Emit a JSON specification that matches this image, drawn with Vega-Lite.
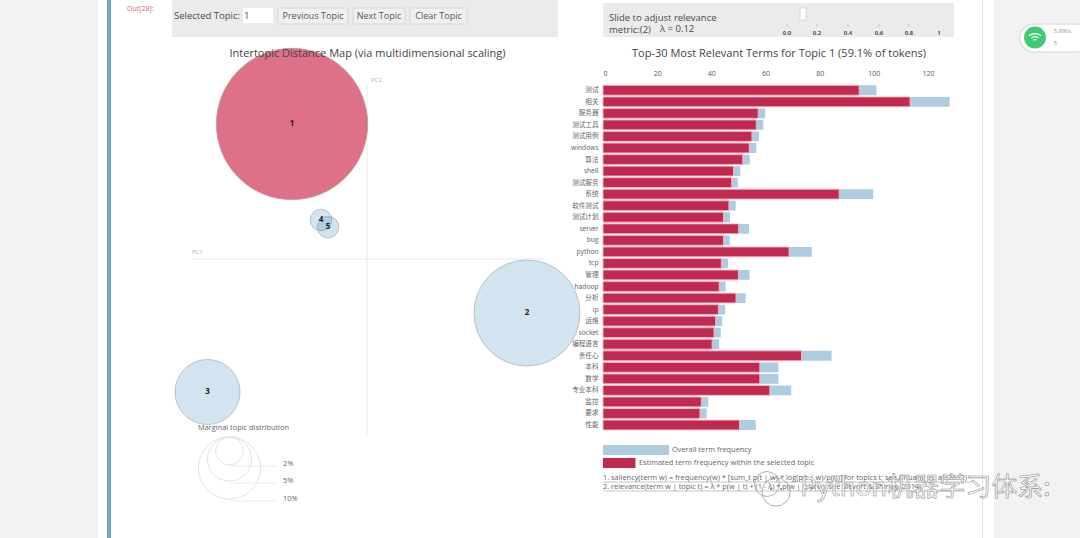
{
"$schema":"https://vega.github.io/schema/vega-lite/v6.json",
"width":1080,"height":538,"padding":0,
"autosize":{"type":"fit","contains":"padding"},
"background":"#ffffff",
"config":{"view":{"stroke":null},"font":"Open Sans"},
"datasets":{
"terms":[
{"term":"测试","overall":101,"topic":94.6},{"term":"相关","overall":128,"topic":113.4},{"term":"服务器","overall":59.9,"topic":57.3},{"term":"测试工具","overall":59.2,"topic":56.6},{"term":"测试用例","overall":57.6,"topic":55},{"term":"windows","overall":56.6,"topic":54},{"term":"算法","overall":54.2,"topic":51.6},{"term":"shell","overall":50.7,"topic":48.2},{"term":"测试服务","overall":49.8,"topic":47.5},{"term":"系统","overall":99.8,"topic":87.2},{"term":"软件测试","overall":49,"topic":46.5},{"term":"测试计划","overall":46.9,"topic":44.5},{"term":"server","overall":53.9,"topic":50.1},{"term":"bug","overall":46.8,"topic":44.5},{"term":"python","overall":77.1,"topic":68.7},{"term":"tcp","overall":46.2,"topic":43.7},{"term":"管理","overall":54.1,"topic":50},{"term":"hadoop","overall":45.3,"topic":42.9},{"term":"分析","overall":52.7,"topic":49.1},{"term":"ip","overall":45.1,"topic":42.6},{"term":"运维","overall":44,"topic":41.6},{"term":"socket","overall":43.5,"topic":41},{"term":"编程语言","overall":42.9,"topic":40.3},{"term":"责任心","overall":84.4,"topic":73.3},{"term":"本科","overall":64.8,"topic":57.9},{"term":"数学","overall":64.8,"topic":57.9},{"term":"专业本科","overall":69.5,"topic":61.6},{"term":"监控","overall":38.9,"topic":36.3},{"term":"要求","overall":38.3,"topic":35.8},{"term":"性能","overall":56.4,"topic":50.4}],
"topics":[
{"id":"1","pc1":-0.15,"pc2":0.27,"share":59.1,"state":"selected"},{"id":"2","pc1":0.32,"pc2":-0.108,"share":29,"state":"other"},{"id":"3","pc1":-0.319,"pc2":-0.266,"share":10.9,"state":"other"},{"id":"4","pc1":-0.092,"pc2":0.078,"share":1.2,"state":"other"},{"id":"5","pc1":-0.078,"pc2":0.064,"share":1.2,"state":"other"}]
},
"layer":[
{"data":{"values":[{"x":0,"x2":98,"y":0,"y2":538},{"x":994,"x2":1080,"y":0,"y2":538}]},"mark":{"type":"rect","fill":"#f2f2f2"},
"encoding":{"x":{"field":"x","type":"quantitative","axis":null,"scale":{"domain":[0,1080],"range":[0,1080],"nice":false,"zero":false}},"x2":{"field":"x2"},"y":{"field":"y","type":"quantitative","axis":null,"scale":{"domain":[0,538],"range":[0,538],"nice":false,"zero":false}},"y2":{"field":"y2"}}},
{"data":{"values":[{"x":107,"x2":111,"y":0,"y2":538}]},"mark":{"type":"rect","fill":"#6fa5c5"},
"encoding":{"x":{"field":"x","type":"quantitative","axis":null,"scale":{"domain":[0,1080],"range":[0,1080],"nice":false,"zero":false}},"x2":{"field":"x2"},"y":{"field":"y","type":"quantitative","axis":null,"scale":{"domain":[0,538],"range":[0,538],"nice":false,"zero":false}},"y2":{"field":"y2"}}},
{"data":{"values":[{"x":982,"x2":983,"y":0,"y2":538}]},"mark":{"type":"rect","fill":"#e2e2e2"},
"encoding":{"x":{"field":"x","type":"quantitative","axis":null,"scale":{"domain":[0,1080],"range":[0,1080],"nice":false,"zero":false}},"x2":{"field":"x2"},"y":{"field":"y","type":"quantitative","axis":null,"scale":{"domain":[0,538],"range":[0,538],"nice":false,"zero":false}},"y2":{"field":"y2"}}},
{"data":{"values":[{"x":172,"x2":558,"y":0,"y2":37},{"x":603,"x2":954,"y":3,"y2":37}]},"mark":{"type":"rect","fill":"#ebebeb"},
"encoding":{"x":{"field":"x","type":"quantitative","axis":null,"scale":{"domain":[0,1080],"range":[0,1080],"nice":false,"zero":false}},"x2":{"field":"x2"},"y":{"field":"y","type":"quantitative","axis":null,"scale":{"domain":[0,538],"range":[0,538],"nice":false,"zero":false}},"y2":{"field":"y2"}}},
{"data":{"values":[{"x":243,"x2":273,"y":8,"y2":23}]},"mark":{"type":"rect","fill":"#ffffff"},
"encoding":{"x":{"field":"x","type":"quantitative","axis":null,"scale":{"domain":[0,1080],"range":[0,1080],"nice":false,"zero":false}},"x2":{"field":"x2"},"y":{"field":"y","type":"quantitative","axis":null,"scale":{"domain":[0,538],"range":[0,538],"nice":false,"zero":false}},"y2":{"field":"y2"}}},
{"data":{"values":[{"x":278,"x2":348,"y":8,"y2":24},{"x":353,"x2":405,"y":8,"y2":24},{"x":410,"x2":467,"y":8,"y2":24}]},"mark":{"type":"rect","fill":"#f0f0f0","stroke":"#d6d6d6","strokeWidth":1},
"encoding":{"x":{"field":"x","type":"quantitative","axis":null,"scale":{"domain":[0,1080],"range":[0,1080],"nice":false,"zero":false}},"x2":{"field":"x2"},"y":{"field":"y","type":"quantitative","axis":null,"scale":{"domain":[0,538],"range":[0,538],"nice":false,"zero":false}},"y2":{"field":"y2"}}},
{"data":{"values":[{"x":800,"x2":806,"y":8,"y2":20}]},"mark":{"type":"rect","fill":"#ffffff","stroke":"#cfcfcf","strokeWidth":0.7},
"encoding":{"x":{"field":"x","type":"quantitative","axis":null,"scale":{"domain":[0,1080],"range":[0,1080],"nice":false,"zero":false}},"x2":{"field":"x2"},"y":{"field":"y","type":"quantitative","axis":null,"scale":{"domain":[0,538],"range":[0,538],"nice":false,"zero":false}},"y2":{"field":"y2"}}},
{"data":{"values":[{"x":787,"y":24,"y2":27},{"x":817,"y":24,"y2":27},{"x":848,"y":24,"y2":27},{"x":879,"y":24,"y2":27},{"x":909,"y":24,"y2":27}]},"mark":{"type":"rule","stroke":"#b5b5b5","strokeWidth":0.7},
"encoding":{"x":{"field":"x","type":"quantitative","axis":null,"scale":{"domain":[0,1080],"range":[0,1080],"nice":false,"zero":false}},"y":{"field":"y","type":"quantitative","axis":null,"scale":{"domain":[0,538],"range":[0,538],"nice":false,"zero":false}},"y2":{"field":"y2"}}},
{"data":{"values":[{"pc1":-0.35,"pc1b":0.35,"pc2":0}]},"mark":{"type":"rule","stroke":"#e9e9e9","strokeWidth":1},
"encoding":{"x":{"field":"pc1","type":"quantitative","axis":null,"scale":{"domain":[-0.35,0.35],"range":[192,542],"nice":false,"zero":false}},"x2":{"field":"pc1b"},"y":{"field":"pc2","type":"quantitative","axis":null,"scale":{"domain":[-0.352,0.352],"range":[435,83],"nice":false,"zero":false}}}},
{"data":{"values":[{"pc1":0,"pc2":-0.352,"pc2b":0.352}]},"mark":{"type":"rule","stroke":"#e9e9e9","strokeWidth":1},
"encoding":{"x":{"field":"pc1","type":"quantitative","axis":null,"scale":{"domain":[-0.35,0.35],"range":[192,542],"nice":false,"zero":false}},"y":{"field":"pc2","type":"quantitative","axis":null,"scale":{"domain":[-0.352,0.352],"range":[435,83],"nice":false,"zero":false}},"y2":{"field":"pc2b"}}},
{"data":{"name":"topics"},"mark":{"type":"point","filled":true,"opacity":1,"stroke":"#a3a3a3","strokeWidth":0.6},
"encoding":{"x":{"field":"pc1","type":"quantitative","axis":null,"scale":{"domain":[-0.35,0.35],"range":[192,542],"nice":false,"zero":false}},"y":{"field":"pc2","type":"quantitative","axis":null,"scale":{"domain":[-0.352,0.352],"range":[435,83],"nice":false,"zero":false}},"size":{"field":"share","type":"quantitative","legend":null,"scale":{"domain":[0,100],"range":[0,38800]}},"color":{"field":"state","type":"nominal","legend":null,"scale":{"domain":["selected","other"],"range":["rgba(205,35,70,0.65)","rgba(31,119,180,0.2)"]}}}},
{"data":{"name":"topics"},"mark":{"type":"text","fontSize":8,"fontWeight":"bold","color":"#222222","font":"Open Sans"},
"encoding":{"x":{"field":"pc1","type":"quantitative","axis":null,"scale":{"domain":[-0.35,0.35],"range":[192,542],"nice":false,"zero":false}},"y":{"field":"pc2","type":"quantitative","axis":null,"scale":{"domain":[-0.352,0.352],"range":[435,83],"nice":false,"zero":false}},"text":{"field":"id"}}},
{"data":{"values":[{"x":229.5,"y":451,"pct":2},{"x":229.5,"y":459,"pct":5},{"x":229.5,"y":468,"pct":10}]},"mark":{"type":"point","filled":false,"opacity":1,"stroke":"#dedbe0","strokeWidth":0.8},
"encoding":{"x":{"field":"x","type":"quantitative","axis":null,"scale":{"domain":[0,1080],"range":[0,1080],"nice":false,"zero":false}},"y":{"field":"y","type":"quantitative","axis":null,"scale":{"domain":[0,538],"range":[0,538],"nice":false,"zero":false}},"size":{"field":"pct","type":"quantitative","legend":null,"scale":{"domain":[0,100],"range":[0,38800]}}}},
{"data":{"values":[{"x":230,"x2":277,"y":466},{"x":230,"x2":277,"y":483},{"x":230,"x2":277,"y":501}]},"mark":{"type":"rule","stroke":"#e2e2e2","strokeWidth":0.7},
"encoding":{"x":{"field":"x","type":"quantitative","axis":null,"scale":{"domain":[0,1080],"range":[0,1080],"nice":false,"zero":false}},"x2":{"field":"x2"},"y":{"field":"y","type":"quantitative","axis":null,"scale":{"domain":[0,538],"range":[0,538],"nice":false,"zero":false}}}},
{"data":{"name":"terms"},"mark":{"type":"bar","fill":"#aecbe0"},
"encoding":{"x":{"field":"overall","type":"quantitative","scale":{"domain":[0,128],"range":[603,949.6],"nice":false},"axis":{"orient":"top","offset":-77,"values":[0,20,40,60,80,100,120],"grid":false,"domain":false,"ticks":false,"labelFontSize":7,"labelColor":"#555555","labelPadding":1,"title":null,"labelFont":"Open Sans"}},"y":{"field":"term","type":"nominal","sort":null,"scale":{"range":[84.5,430.8],"paddingInner":0.15,"paddingOuter":0.075},"axis":{"orient":"left","offset":-603,"grid":false,"domain":false,"ticks":false,"labelFontSize":6.6,"labelColor":"#666666","labelPadding":5,"title":null,"labelFont":"Noto Sans CJK SC","labelOverlap":false}}}},
{"data":{"name":"terms"},"mark":{"type":"bar","fill":"#c02a50","stroke":"#f8b6c4","strokeWidth":0.9},
"encoding":{"x":{"field":"topic","type":"quantitative","axis":null,"scale":{"domain":[0,128],"range":[603,949.6],"nice":false}},"y":{"field":"term","type":"nominal","sort":null,"axis":null,"scale":{"range":[84.5,430.8],"paddingInner":0.15,"paddingOuter":0.075}}}},
{"data":{"values":[{"x":603,"x2":669,"y":445,"y2":455}]},"mark":{"type":"rect","fill":"#aecbe0"},
"encoding":{"x":{"field":"x","type":"quantitative","axis":null,"scale":{"domain":[0,1080],"range":[0,1080],"nice":false,"zero":false}},"x2":{"field":"x2"},"y":{"field":"y","type":"quantitative","axis":null,"scale":{"domain":[0,538],"range":[0,538],"nice":false,"zero":false}},"y2":{"field":"y2"}}},
{"data":{"values":[{"x":603,"x2":635.5,"y":458,"y2":468}]},"mark":{"type":"rect","fill":"#c02a50"},
"encoding":{"x":{"field":"x","type":"quantitative","axis":null,"scale":{"domain":[0,1080],"range":[0,1080],"nice":false,"zero":false}},"x2":{"field":"x2"},"y":{"field":"y","type":"quantitative","axis":null,"scale":{"domain":[0,538],"range":[0,538],"nice":false,"zero":false}},"y2":{"field":"y2"}}},
{"data":{"values":[{"x":603,"x2":972,"y":482},{"x":603,"x2":952,"y":491}]},"mark":{"type":"rule","stroke":"#a0a0a0","strokeWidth":0.6},
"encoding":{"x":{"field":"x","type":"quantitative","axis":null,"scale":{"domain":[0,1080],"range":[0,1080],"nice":false,"zero":false}},"x2":{"field":"x2"},"y":{"field":"y","type":"quantitative","axis":null,"scale":{"domain":[0,538],"range":[0,538],"nice":false,"zero":false}}}},
{"data":{"values":[{"x":367.5,"y":54,"label":"Intertopic Distance Map (via multidimensional scaling)"},{"x":779,"y":54,"label":"Top-30 Most Relevant Terms for Topic 1 (59.1% of tokens)"}]},"mark":{"type":"text","fontSize":11,"color":"#444444","align":"center","font":"Open Sans"},
"encoding":{"x":{"field":"x","type":"quantitative","axis":null,"scale":{"domain":[0,1080],"range":[0,1080],"nice":false,"zero":false}},"y":{"field":"y","type":"quantitative","axis":null,"scale":{"domain":[0,538],"range":[0,538],"nice":false,"zero":false}},"text":{"field":"label"}}},
{"data":{"values":[{"x":174,"y":16,"label":"Selected Topic:"},{"x":244,"y":16,"label":"1"},{"x":609,"y":18,"label":"Slide to adjust relevance"},{"x":609,"y":30,"label":"metric:(2)"},{"x":660,"y":29,"label":"λ = 0.12"}]},"mark":{"type":"text","fontSize":9.5,"color":"#4a4a4a","align":"left","font":"Open Sans"},
"encoding":{"x":{"field":"x","type":"quantitative","axis":null,"scale":{"domain":[0,1080],"range":[0,1080],"nice":false,"zero":false}},"y":{"field":"y","type":"quantitative","axis":null,"scale":{"domain":[0,538],"range":[0,538],"nice":false,"zero":false}},"text":{"field":"label"}}},
{"data":{"values":[{"x":313,"y":16,"label":"Previous Topic"},{"x":379,"y":16,"label":"Next Topic"},{"x":438.5,"y":16,"label":"Clear Topic"}]},"mark":{"type":"text","fontSize":9,"color":"#555555","align":"center","font":"Open Sans"},
"encoding":{"x":{"field":"x","type":"quantitative","axis":null,"scale":{"domain":[0,1080],"range":[0,1080],"nice":false,"zero":false}},"y":{"field":"y","type":"quantitative","axis":null,"scale":{"domain":[0,538],"range":[0,538],"nice":false,"zero":false}},"text":{"field":"label"}}},
{"data":{"values":[{"x":787,"y":33,"label":"0.0"},{"x":817,"y":33,"label":"0.2"},{"x":848,"y":33,"label":"0.4"},{"x":879,"y":33,"label":"0.6"},{"x":909,"y":33,"label":"0.8"},{"x":939,"y":33,"label":"1"}]},"mark":{"type":"text","fontSize":6,"fontWeight":"bold","color":"#555555","align":"center","font":"Open Sans"},
"encoding":{"x":{"field":"x","type":"quantitative","axis":null,"scale":{"domain":[0,1080],"range":[0,1080],"nice":false,"zero":false}},"y":{"field":"y","type":"quantitative","axis":null,"scale":{"domain":[0,538],"range":[0,538],"nice":false,"zero":false}},"text":{"field":"label"}}},
{"data":{"values":[{"x":127,"y":9,"label":"Out[28]:"}]},"mark":{"type":"text","fontSize":7,"color":"#d9636a","align":"left","font":"Open Sans"},
"encoding":{"x":{"field":"x","type":"quantitative","axis":null,"scale":{"domain":[0,1080],"range":[0,1080],"nice":false,"zero":false}},"y":{"field":"y","type":"quantitative","axis":null,"scale":{"domain":[0,538],"range":[0,538],"nice":false,"zero":false}},"text":{"field":"label"}}},
{"data":{"values":[{"x":192,"y":252,"label":"PC1"},{"x":371,"y":80,"label":"PC2"}]},"mark":{"type":"text","fontSize":6,"color":"#c9a9a9","align":"left","font":"Open Sans"},
"encoding":{"x":{"field":"x","type":"quantitative","axis":null,"scale":{"domain":[0,1080],"range":[0,1080],"nice":false,"zero":false}},"y":{"field":"y","type":"quantitative","axis":null,"scale":{"domain":[0,538],"range":[0,538],"nice":false,"zero":false}},"text":{"field":"label"}}},
{"data":{"values":[{"x":198,"y":428,"label":"Marginal topic distribution"},{"x":283,"y":464,"label":"2%"},{"x":283,"y":481,"label":"5%"},{"x":283,"y":499,"label":"10%"},{"x":672,"y":450,"label":"Overall term frequency"},{"x":639,"y":463,"label":"Estimated term frequency within the selected topic"},{"x":603,"y":478,"label":"1. saliency(term w) = frequency(w) * [sum_t p(t | w) * log(p(t | w)/p(t))] for topics t; see Chuang et. al (2012)"},{"x":603,"y":487,"label":"2. relevance(term w | topic t) = λ * p(w | t) + (1 - λ) * p(w | t)/p(w); see Sievert & Shirley (2014)"}]},"mark":{"type":"text","fontSize":7.4,"color":"#666666","align":"left","font":"Open Sans"},
"encoding":{"x":{"field":"x","type":"quantitative","axis":null,"scale":{"domain":[0,1080],"range":[0,1080],"nice":false,"zero":false}},"y":{"field":"y","type":"quantitative","axis":null,"scale":{"domain":[0,538],"range":[0,538],"nice":false,"zero":false}},"text":{"field":"label"}}},
{"data":{"values":[{"x":1020,"x2":1090,"y":24,"y2":52}]},"mark":{"type":"rect","fill":"#ffffff","stroke":"#e2e2e2","strokeWidth":1.5,"cornerRadius":14},
"encoding":{"x":{"field":"x","type":"quantitative","axis":null,"scale":{"domain":[0,1080],"range":[0,1080],"nice":false,"zero":false}},"x2":{"field":"x2"},"y":{"field":"y","type":"quantitative","axis":null,"scale":{"domain":[0,538],"range":[0,538],"nice":false,"zero":false}},"y2":{"field":"y2"}}},
{"data":{"values":[{"x":1035,"y":37.5,"area":480}]},"mark":{"type":"point","filled":true,"opacity":1,"fill":"#3fcb74"},
"encoding":{"x":{"field":"x","type":"quantitative","axis":null,"scale":{"domain":[0,1080],"range":[0,1080],"nice":false,"zero":false}},"y":{"field":"y","type":"quantitative","axis":null,"scale":{"domain":[0,538],"range":[0,538],"nice":false,"zero":false}},"size":{"field":"area","type":"quantitative","legend":null,"scale":{"domain":[0,1000],"range":[0,1000]}}}},
{"data":{"values":[{"x":1035,"y":37.5,"area":150}]},"mark":{"type":"point","filled":false,"opacity":1,"stroke":"#ffffff","strokeWidth":1.2,"shape":"M-1,-0.3Q0,-1 1,-0.3M-0.6,0.1Q0,-0.4 0.6,0.1M-0.25,0.45Q0,0.2 0.25,0.45"},
"encoding":{"x":{"field":"x","type":"quantitative","axis":null,"scale":{"domain":[0,1080],"range":[0,1080],"nice":false,"zero":false}},"y":{"field":"y","type":"quantitative","axis":null,"scale":{"domain":[0,538],"range":[0,538],"nice":false,"zero":false}},"size":{"field":"area","type":"quantitative","legend":null,"scale":{"domain":[0,1000],"range":[0,1000]}}}},
{"data":{"values":[{"x":1054,"y":31,"label":"5.00K/s"},{"x":1054,"y":43,"label":"5"}]},"mark":{"type":"text","fontSize":5,"color":"#888888","align":"left","font":"Open Sans"},
"encoding":{"x":{"field":"x","type":"quantitative","axis":null,"scale":{"domain":[0,1080],"range":[0,1080],"nice":false,"zero":false}},"y":{"field":"y","type":"quantitative","axis":null,"scale":{"domain":[0,538],"range":[0,538],"nice":false,"zero":false}},"text":{"field":"label"}}},
{"data":{"values":[{"x":767,"y":484,"area":620},{"x":776,"y":492,"area":800}]},"mark":{"type":"point","filled":false,"opacity":1,"stroke":"#9a9a9a","strokeWidth":0.8},
"encoding":{"x":{"field":"x","type":"quantitative","axis":null,"scale":{"domain":[0,1080],"range":[0,1080],"nice":false,"zero":false}},"y":{"field":"y","type":"quantitative","axis":null,"scale":{"domain":[0,538],"range":[0,538],"nice":false,"zero":false}},"size":{"field":"area","type":"quantitative","legend":null,"scale":{"domain":[0,1000],"range":[0,1000]}}}},
{"data":{"values":[{"x":771,"y":489,"area":4},{"x":781,"y":489,"area":4}]},"mark":{"type":"point","filled":true,"opacity":1,"fill":"#777777"},
"encoding":{"x":{"field":"x","type":"quantitative","axis":null,"scale":{"domain":[0,1080],"range":[0,1080],"nice":false,"zero":false}},"y":{"field":"y","type":"quantitative","axis":null,"scale":{"domain":[0,538],"range":[0,538],"nice":false,"zero":false}},"size":{"field":"area","type":"quantitative","legend":null,"scale":{"domain":[0,1000],"range":[0,1000]}}}},
{"data":{"values":[{"x":800,"y":488,"label":"Python机器学习体系:"}]},"mark":{"type":"text","fontSize":26,"fill":"#ffffff","fillOpacity":0.75,"stroke":"#8f8f8f","strokeWidth":0.6,"align":"left","font":"Noto Sans CJK SC"},
"encoding":{"x":{"field":"x","type":"quantitative","axis":null,"scale":{"domain":[0,1080],"range":[0,1080],"nice":false,"zero":false}},"y":{"field":"y","type":"quantitative","axis":null,"scale":{"domain":[0,538],"range":[0,538],"nice":false,"zero":false}},"text":{"field":"label"}}}
],
"resolve":{"scale":{"x":"independent","y":"independent","size":"independent","color":"independent"},"axis":{"x":"independent","y":"independent"}}
}
